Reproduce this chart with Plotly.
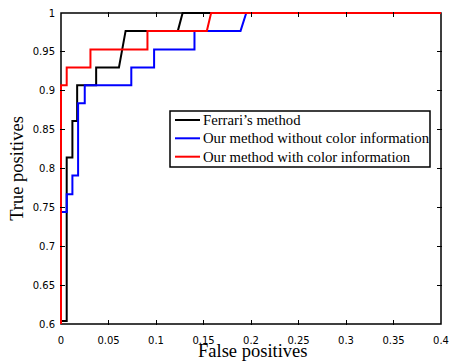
import plotly.graph_objects as go

# Series data (vertices of the ROC-like curves)
ferrari_x = [0, 0, 0.006, 0.006, 0.012, 0.012, 0.017, 0.017, 0.037, 0.037, 0.061, 0.068, 0.123, 0.128, 0.4]
ferrari_y = [0.6, 0.604, 0.604, 0.814, 0.814, 0.861, 0.861, 0.907, 0.907, 0.930, 0.930, 0.977, 0.977, 1.0, 1.0]

nocolor_x = [0, 0, 0.006, 0.006, 0.012, 0.012, 0.018, 0.018, 0.025, 0.025, 0.074, 0.074, 0.098, 0.098, 0.1405, 0.1405, 0.189, 0.195, 0.4]
nocolor_y = [0.6, 0.744, 0.744, 0.767, 0.767, 0.791, 0.791, 0.884, 0.884, 0.907, 0.907, 0.930, 0.930, 0.953, 0.953, 0.977, 0.977, 1.0, 1.0]

color_x = [0, 0, 0.006, 0.006, 0.031, 0.031, 0.091, 0.091, 0.1535, 0.158, 0.4]
color_y = [0.6, 0.907, 0.907, 0.930, 0.930, 0.953, 0.953, 0.977, 0.977, 1.0, 1.0]

series_names = ["Ferrari\u2019s method",
                "Our method without color information",
                "Our method with color information"]
series_colors = ["#000000", "#0000ff", "#ff0000"]

x_min, x_max = 0.0, 0.4
y_min, y_max = 0.6, 1.0
x_ticks = [0, 0.05, 0.1, 0.15, 0.2, 0.25, 0.3, 0.35, 0.4]
x_ticklabels = ["0", "0.05", "0.1", "0.15", "0.2", "0.25", "0.3", "0.35", "0.4"]
y_ticks = [0.6, 0.65, 0.7, 0.75, 0.8, 0.85, 0.9, 0.95, 1.0]
y_ticklabels = ["0.6", "0.65", "0.7", "0.75", "0.8", "0.85", "0.9", "0.95", "1"]

x_title = "False positives"
y_title = "True positives"

W, H = 449, 362
# frame (axes box) in pixels
FL, FR, FT, FB = 61, 441, 13, 324
PAD = 1  # plot area extends 1px beyond the frame so edge lines are not clipped
ML, MR, MT, MB = FL - PAD, W - FR - PAD, FT - PAD, H - FB - PAD
PW, PH = W - ML - MR, H - MT - MB

sx = (FR - FL) / (x_max - x_min)
sy = (FB - FT) / (y_max - y_min)

def px_x(p):
    return (p - ML) / PW

def px_y(p):
    return (MT + PH - p) / PH

fig = go.Figure()
for xs, ys, name, col in zip([ferrari_x, nocolor_x, color_x],
                             [ferrari_y, nocolor_y, color_y],
                             series_names, series_colors):
    fig.add_trace(go.Scatter(x=xs, y=ys, mode="lines", name=name, hoverinfo="skip",
                             line=dict(color=col, width=2), showlegend=False))

axis_common = dict(showgrid=False, zeroline=False, showline=False,
                   mirror="ticks", ticks="inside", ticklen=5,
                   tickcolor="black", tickwidth=1,
                   tickfont=dict(family="DejaVu Sans", size=10, color="black"))

serif = "Liberation Serif, Times New Roman"
title_font = dict(family=serif, size=18.5, color="black")

fig.update_xaxes(range=[x_min - PAD / sx, x_max + PAD / sx], tickvals=x_ticks,
                 ticktext=x_ticklabels, ticklabelstandoff=8, **axis_common)
fig.update_yaxes(range=[y_min - PAD / sy, y_max + PAD / sy], tickvals=y_ticks,
                 ticktext=y_ticklabels, ticklabelstandoff=4,
                 title=dict(text=y_title, standoff=4, font=title_font),
                 **axis_common)

# axes frame (drawn beneath the curves)
shapes = [dict(type="rect", xref="x", yref="y", x0=x_min, x1=x_max, y0=y_min, y1=y_max,
               line=dict(color="black", width=1.5), layer="below")]

# Legend drawn as a boxed key
shapes.append(dict(type="rect", xref="paper", yref="paper",
                   x0=px_x(170), x1=px_x(430), y0=px_y(167), y1=px_y(111),
                   line=dict(color="black", width=1.5), fillcolor="white", layer="above"))
annotations = []
row_y = [120, 138.3, 156.7]
for ry, name, col in zip(row_y, series_names, series_colors):
    shapes.append(dict(type="line", xref="paper", yref="paper",
                       x0=px_x(175), x1=px_x(200), y0=px_y(ry), y1=px_y(ry),
                       line=dict(color=col, width=2), layer="above"))
    annotations.append(dict(x=px_x(201), y=px_y(ry), xref="paper", yref="paper",
                            text=name, showarrow=False, xanchor="left", yanchor="middle",
                            font=dict(family=serif, size=14.7, color="black")))

# x-axis title placed below the tick labels
annotations.append(dict(x=px_x(253), y=px_y(351), xref="paper", yref="paper",
                        text=x_title, showarrow=False, xanchor="center", yanchor="middle",
                        font=title_font))

fig.update_layout(
    width=W, height=H,
    margin=dict(l=ML, r=MR, t=MT, b=MB, autoexpand=False),
    paper_bgcolor="white", plot_bgcolor="white",
    showlegend=False, hovermode=False,
    shapes=shapes, annotations=annotations,
)

fig.write_html("out.html", config={"displayModeBar": False, "staticPlot": True},
               post_script="document.body.style.margin='0';document.body.style.padding='0';")
